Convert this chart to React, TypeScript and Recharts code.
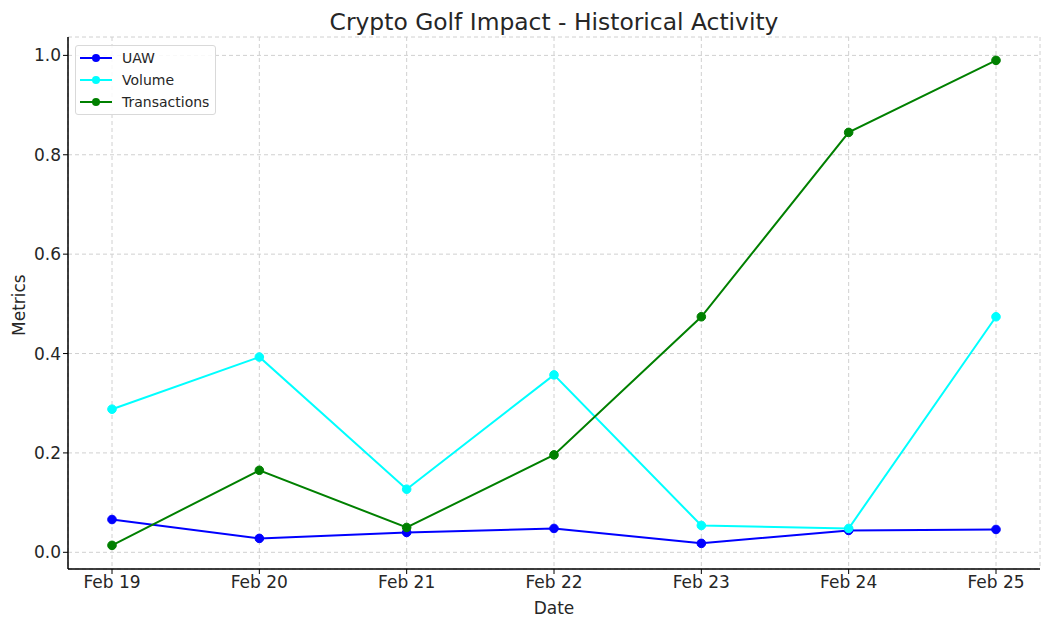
import { CartesianGrid, Line, LineChart, XAxis, YAxis } from "recharts";

const dates = ["Feb 19", "Feb 20", "Feb 21", "Feb 22", "Feb 23", "Feb 24", "Feb 25"];
const uaw = [0.066, 0.028, 0.04, 0.048, 0.018, 0.044, 0.046];
const volume = [0.288, 0.393, 0.127, 0.357, 0.054, 0.048, 0.474];
const transactions = [0.014, 0.165, 0.05, 0.196, 0.474, 0.845, 0.99];
const yTicks = [0, 0.2, 0.4, 0.6, 0.8, 1.0];

const series = [
  { key: "UAW", color: "#0000ff" },
  { key: "Volume", color: "#00ffff" },
  { key: "Transactions", color: "#008000" },
];

const data = dates.map((date, i) => ({
  date,
  UAW: uaw[i],
  Volume: volume[i],
  Transactions: transactions[i],
}));

const font = "'DejaVu Sans', sans-serif";
const textColor = "#262626";

const LegendBox = () => (
  <div
    style={{
      position: "absolute",
      left: 75,
      top: 45,
      border: "1px solid #d9d9d9",
      borderRadius: 3,
      background: "rgba(255,255,255,0.85)",
      padding: "1px 6px 1px 4px",
      fontFamily: font,
      fontSize: 14,
      color: textColor,
    }}
  >
    {series.map((s) => (
      <div key={s.key} style={{ display: "flex", alignItems: "center", height: 22 }}>
        <svg width={32} height={12} style={{ marginRight: 10 }}>
          <line x1={0} y1={6} x2={32} y2={6} stroke={s.color} strokeWidth={2} />
          <circle cx={16} cy={6} r={4} fill={s.color} />
        </svg>
        <span>{s.key}</span>
      </div>
    ))}
  </div>
);

export default function App() {
  return (
    <div style={{ position: "absolute", left: 0, top: 0, width: 1050, height: 626, background: "#fff" }}>
      <div
        style={{
          position: "absolute",
          left: 68,
          width: 972,
          top: 8,
          textAlign: "center",
          fontFamily: font,
          fontSize: 23.4,
          color: textColor,
        }}
      >
        Crypto Golf Impact - Historical Activity
      </div>
      <LineChart
        width={1050}
        height={626}
        data={data}
        margin={{ top: 37, right: 10, bottom: 0, left: 0 }}
        style={{ fontFamily: font }}
      >
        <CartesianGrid stroke="#d0d0d0" strokeDasharray="4 3" />
        <XAxis
          dataKey="date"
          height={57}
          padding={{ left: 44, right: 44 }}
          axisLine={{ stroke: "#000", strokeWidth: 1.5 }}
          tickLine={{ stroke: "#000" }}
          tickSize={5}
          tick={{ fill: textColor, fontSize: 17 }}
          label={{ value: "Date", position: "insideBottom", offset: 12, fill: textColor, fontSize: 17 }}
        />
        <YAxis
          type="number"
          width={68}
          domain={[-0.0336, 1.037]}
          ticks={yTicks}
          tickFormatter={(v) => v.toFixed(1)}
          allowDataOverflow
          axisLine={{ stroke: "#000", strokeWidth: 1.5 }}
          tickLine={{ stroke: "#000" }}
          tickSize={5}
          tick={{ fill: textColor, fontSize: 17 }}
          label={{ value: "Metrics", angle: -90, position: "insideLeft", offset: 19, dy: 33, fill: textColor, fontSize: 17 }}
        />
        {series.map((s) => (
          <Line
            key={s.key}
            type="linear"
            dataKey={s.key}
            stroke={s.color}
            strokeWidth={2}
            dot={{ r: 4.3, fill: s.color, stroke: s.color, strokeWidth: 1 }}
            activeDot={false}
            isAnimationActive={false}
          />
        ))}
      </LineChart>
      <LegendBox />
    </div>
  );
}
